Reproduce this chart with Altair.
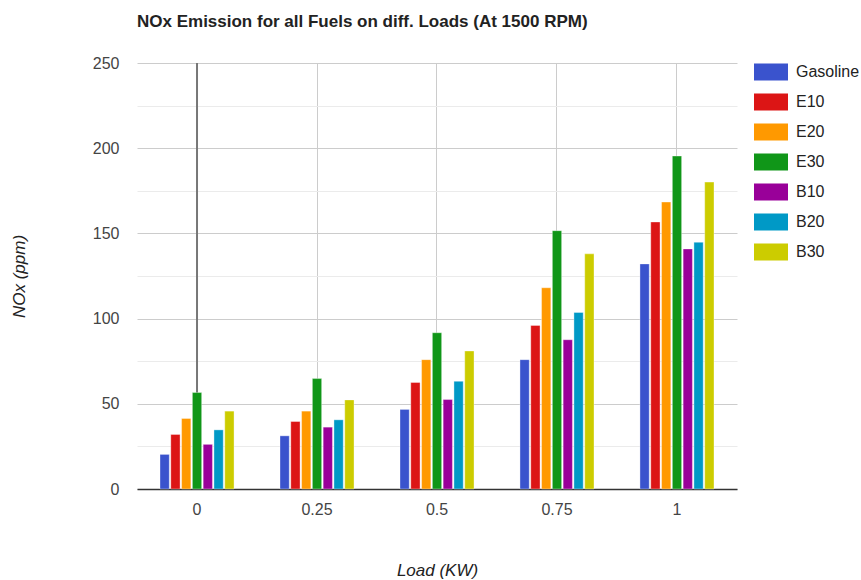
import altair as alt
import pandas as pd

loads = ["0", "0.25", "0.5", "0.75", "1"]
fuels = ["Gasoline", "E10", "E20", "E30", "B10", "B20", "B30"]
colors = ["#3a53cd", "#dc1515", "#ff9900", "#109618", "#990099", "#0099c6", "#cccc00"]

gasoline = [20.3, 31.2, 46.7, 75.9, 132.1]
e10 = [32.0, 39.6, 62.5, 96.0, 156.7]
e20 = [41.4, 45.7, 75.9, 118.1, 168.4]
e30 = [56.6, 64.8, 91.7, 151.6, 195.4]
b10 = [26.2, 36.3, 52.5, 87.6, 140.9]
b20 = [34.7, 40.6, 63.2, 103.6, 144.8]
b30 = [45.7, 52.3, 81.0, 138.0, 180.1]

series = [gasoline, e10, e20, e30, b10, b20, b30]
rows = []
for f, vals in zip(fuels, series):
    for l, v in zip(loads, vals):
        rows.append({"Load": l, "Fuel": f, "NOx": v})
df = pd.DataFrame(rows)

FONT = "Liberation Sans"

x_enc = alt.X(
    "Load:N",
    sort=loads,
    scale=alt.Scale(paddingInner=0.383, paddingOuter=0.1917),
    axis=alt.Axis(
        title="Load (KW)", titleFontStyle="italic", titleFontWeight="normal",
        titleFontSize=17, titleColor="#222", titlePadding=45,
        labelAngle=0, labelAlign="center", labelBaseline="top",
        labelFontSize=16, labelColor="#444", labelPadding=12,
        ticks=False, grid=True, gridColor="#cccccc",
        domainColor="#333333", domainWidth=1.5,
    ),
)

bars = alt.Chart(df).mark_bar(stroke="white", strokeWidth=0.6, strokeOpacity=0.6).encode(
    x=x_enc,
    xOffset=alt.XOffset("Fuel:N", sort=fuels, scale=alt.Scale(paddingInner=0.14, paddingOuter=0.0)),
    y=alt.Y(
        "NOx:Q",
        scale=alt.Scale(domain=[0, 250], nice=False),
        axis=alt.Axis(
            values=[0, 25, 50, 75, 100, 125, 150, 175, 200, 225, 250],
            labelExpr="datum.value % 50 == 0 ? datum.label : ''",
            gridColor={"condition": {"test": "datum.value % 50 == 0", "value": "#cccccc"}, "value": "#ebebeb"},
            title="NOx (ppm)", titleFontStyle="italic", titleFontWeight="normal",
            titleFontSize=17, titleColor="#222", titlePadding=64,
            labelFontSize=16, labelColor="#444", labelPadding=18,
            ticks=False, domain=False,
        ),
    ),
    color=alt.Color(
        "Fuel:N", sort=fuels,
        scale=alt.Scale(domain=fuels, range=colors),
        legend=alt.Legend(
            title=None, orient="none", legendX=617, legendY=-8,
            symbolType="M-1,-0.5H1V0.5H-1Z", symbolSize=1156,
            symbolStrokeWidth=0, labelFontSize=16, labelColor="#222",
            labelOffset=8, rowPadding=4, symbolOpacity=1,
        ),
    ),
)

zero_rule = alt.Chart(pd.DataFrame({"Load": ["0"]})).mark_rule(color="#777777", strokeWidth=2).encode(
    x=alt.X("Load:N", sort=loads)
)

chart = alt.layer(zero_rule, bars).properties(
    width=600, height=426,
    autosize=alt.AutoSizeParams(type="none"),
    title=alt.TitleParams(
        "NOx Emission for all Fuels on diff. Loads (At 1500 RPM)",
        anchor="start", fontSize=17, fontWeight="bold", color="#222", offset=24, dx=0,
    ),
    padding={"left": 137, "top": 63, "right": 124, "bottom": 91},
).configure(font=FONT).configure_view(stroke=None).configure_title(frame="group")

chart.save("out.html", embed_options={"renderer": "svg", "actions": False})
